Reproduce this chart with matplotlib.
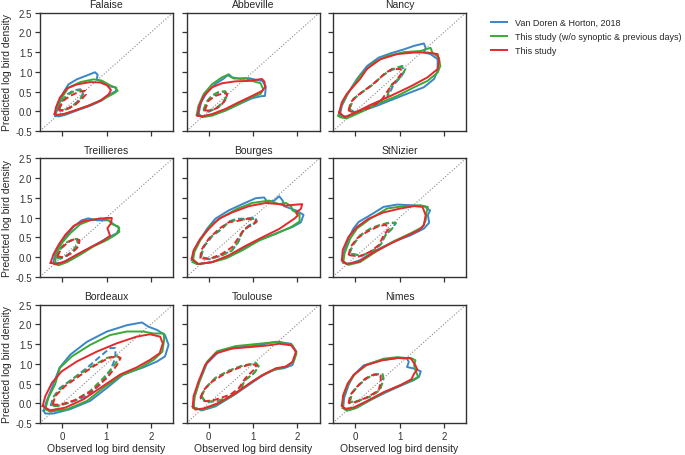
import matplotlib
matplotlib.use("Agg")
import matplotlib.pyplot as plt
from matplotlib.ticker import FormatStrFormatter
import numpy as np

# contour outlines (observed, predicted) in log bird density
# outer = solid contour, inner = dashed contour
# vdh = Van Doren & Horton, 2018 ; nosyn = this study w/o synoptic ; full = this study

falaise_vdh_outer = [(-0.16,-0.11),(-0.08,0.14),(0.03,0.48),(0.14,0.68),(0.33,0.81),(0.56,0.91),(0.74,0.99),(0.80,0.93),(0.78,0.81),(0.93,0.73),(1.08,0.63),(1.22,0.60),(1.22,0.52),(1.08,0.43),(0.89,0.27),(0.63,0.14),(0.33,0.02),(0.07,-0.09),(-0.08,-0.13)]
falaise_nosyn_outer = [(-0.16,-0.09),(-0.11,0.14),(0.02,0.39),(0.14,0.60),(0.41,0.74),(0.71,0.81),(0.89,0.78),(1.08,0.66),(1.20,0.60),(1.25,0.52),(1.16,0.45),(0.93,0.31),(0.63,0.16),(0.33,0.04),(0.07,-0.07),(-0.12,-0.11)]
falaise_full_outer = [(-0.17,-0.07),(-0.14,0.10),(-0.05,0.35),(0.11,0.58),(0.33,0.68),(0.63,0.74),(0.86,0.73),(1.01,0.66),(1.10,0.54),(1.05,0.43),(0.86,0.27),(0.59,0.14),(0.29,0.02),(0.03,-0.07),(-0.12,-0.09)]
falaise_vdh_inner = [(-0.08,0.02),(0.00,0.27),(0.11,0.43),(0.26,0.53),(0.41,0.56),(0.48,0.49),(0.44,0.38),(0.33,0.23),(0.18,0.10),(0.03,0.02)]
falaise_nosyn_inner = [(-0.07,0.03),(0.01,0.26),(0.12,0.41),(0.27,0.51),(0.42,0.54),(0.49,0.48),(0.45,0.37),(0.33,0.22),(0.18,0.09),(0.03,0.02)]
falaise_full_inner = [(-0.08,0.06),(0.03,0.27),(0.18,0.39),(0.37,0.49),(0.52,0.52),(0.54,0.43),(0.44,0.31),(0.29,0.16),(0.11,0.06),(-0.05,0.02)]

abbeville_vdh_outer = [(-0.23,-0.07),(-0.17,0.23),(-0.04,0.48),(0.15,0.69),(0.34,0.83),(0.45,0.94),(0.53,0.86),(0.72,0.82),(0.91,0.84),(1.06,0.80),(1.21,0.77),(1.29,0.63),(1.27,0.39),(1.17,0.38),(0.98,0.33),(0.68,0.18),(0.38,0.02),(0.08,-0.09),(-0.15,-0.13)]
abbeville_nosyn_outer = [(-0.27,-0.09),(-0.23,0.14),(-0.11,0.44),(0.08,0.69),(0.30,0.86),(0.42,0.92),(0.57,0.83),(0.83,0.84),(0.98,0.77),(1.17,0.71),(1.23,0.56),(1.17,0.44),(0.95,0.35),(0.68,0.18),(0.38,0.02),(0.08,-0.11),(-0.15,-0.15)]
abbeville_full_outer = [(-0.25,-0.11),(-0.21,0.14),(-0.11,0.39),(0.08,0.61),(0.30,0.71),(0.61,0.76),(0.91,0.77),(1.20,0.82),(1.26,0.75),(1.27,0.61),(1.21,0.52),(0.98,0.39),(0.68,0.23),(0.38,0.06),(0.08,-0.07),(-0.15,-0.13)]
abbeville_vdh_inner = [(-0.11,0.02),(-0.04,0.23),(0.08,0.39),(0.23,0.48),(0.38,0.50),(0.42,0.39),(0.34,0.23),(0.19,0.08),(0.00,-0.01)]
abbeville_nosyn_inner = [(-0.12,0.03),(-0.05,0.24),(0.07,0.40),(0.22,0.49),(0.37,0.51),(0.41,0.40),(0.33,0.24),(0.18,0.09),(-0.01,0.00)]
abbeville_full_inner = [(-0.09,0.02),(0.00,0.27),(0.15,0.39),(0.34,0.46),(0.42,0.44),(0.39,0.31),(0.27,0.14),(0.08,0.02)]

nancy_vdh_outer = [(-0.34,-0.07),(-0.30,0.14),(-0.15,0.48),(0.04,0.82),(0.27,1.15),(0.53,1.36),(0.80,1.47),(1.10,1.57),(1.33,1.66),(1.55,1.72),(1.59,1.61),(1.55,1.49),(1.70,1.45),(1.86,1.32),(1.86,1.03),(1.78,0.82),(1.55,0.61),(1.25,0.48),(0.87,0.31),(0.49,0.14),(0.11,-0.01),(-0.19,-0.13),(-0.30,-0.13)]
nancy_nosyn_outer = [(-0.38,-0.11),(-0.30,0.18),(-0.15,0.48),(0.11,0.90),(0.42,1.24),(0.72,1.40),(1.10,1.50),(1.48,1.53),(1.70,1.61),(1.74,1.49),(1.89,1.36),(1.92,1.15),(1.86,0.98),(1.63,0.77),(1.33,0.61),(0.95,0.39),(0.49,0.18),(0.11,-0.03),(-0.19,-0.18),(-0.34,-0.15)]
nancy_full_outer = [(-0.36,-0.03),(-0.30,0.23),(-0.19,0.44),(-0.04,0.63),(0.11,0.82),(0.27,1.08),(0.57,1.32),(0.95,1.45),(1.33,1.49),(1.63,1.49),(1.86,1.45),(1.89,1.28),(1.86,1.07),(1.63,0.86),(1.25,0.63),(0.80,0.39),(0.34,0.16),(0.04,-0.01),(-0.23,-0.15)]
nancy_vdh_inner = [(-0.13,0.06),(-0.04,0.31),(0.15,0.48),(0.38,0.66),(0.61,0.90),(0.83,1.05),(1.04,1.12),(1.12,1.05),(1.04,0.88),(0.86,0.66),(0.74,0.37),(0.53,0.21),(0.27,0.07),(0.00,-0.03)]
nancy_nosyn_inner = [(-0.13,0.06),(-0.04,0.31),(0.15,0.48),(0.38,0.66),(0.61,0.90),(0.83,1.07),(1.06,1.15),(1.14,1.09),(1.06,0.90),(0.83,0.69),(0.72,0.39),(0.53,0.23),(0.27,0.08),(0.00,-0.03)]
nancy_full_inner = [(-0.15,0.02),(-0.10,0.23),(0.04,0.39),(0.27,0.58),(0.49,0.77),(0.68,0.97),(0.83,1.07),(1.02,1.07),(1.06,0.98),(0.95,0.82),(0.76,0.56),(0.61,0.31),(0.42,0.14),(0.15,0.02),(-0.04,-0.03)]

treillieres_vdh_outer = [(-0.20,-0.15),(-0.16,0.06),(-0.05,0.31),(0.11,0.56),(0.26,0.77),(0.44,0.93),(0.59,0.98),(0.78,0.93),(1.05,0.93),(1.16,0.83),(1.29,0.73),(1.23,0.60),(1.01,0.48),(0.78,0.33),(0.48,0.14),(0.18,-0.04),(-0.01,-0.15)]
treillieres_nosyn_outer = [(-0.16,-0.18),(-0.14,0.06),(-0.01,0.35),(0.18,0.60),(0.41,0.83),(0.63,0.93),(0.86,0.98),(1.05,0.93),(1.13,0.83),(1.27,0.77),(1.29,0.64),(1.20,0.56),(1.01,0.43),(0.71,0.27),(0.41,0.06),(0.11,-0.13),(-0.08,-0.21)]
treillieres_full_outer = [(-0.26,-0.15),(-0.20,0.06),(-0.08,0.31),(0.07,0.56),(0.26,0.79),(0.48,0.91),(0.78,0.96),(1.01,0.99),(1.12,0.99),(1.10,0.85),(1.02,0.73),(1.08,0.54),(0.93,0.41),(0.63,0.24),(0.33,0.06),(0.07,-0.11),(-0.12,-0.18)]
treillieres_vdh_inner = [(-0.12,-0.03),(-0.06,0.18),(0.07,0.35),(0.22,0.43),(0.33,0.46),(0.35,0.35),(0.26,0.18),(0.11,0.04),(-0.03,-0.04)]
treillieres_nosyn_inner = [(-0.11,-0.02),(-0.05,0.19),(0.08,0.36),(0.23,0.44),(0.34,0.46),(0.36,0.35),(0.27,0.18),(0.12,0.04),(-0.02,-0.03)]
treillieres_full_inner = [(-0.11,0.02),(-0.01,0.23),(0.14,0.38),(0.29,0.46),(0.39,0.43),(0.37,0.27),(0.22,0.10),(0.03,-0.01)]

bourges_vdh_outer = [(-0.38,-0.08),(-0.34,0.13),(-0.23,0.38),(-0.04,0.71),(0.15,0.97),(0.45,1.18),(0.76,1.34),(1.06,1.49),(1.25,1.51),(1.33,1.39),(1.48,1.43),(1.59,1.54),(1.67,1.43),(1.70,1.29),(1.97,1.18),(2.14,1.07),(2.08,0.88),(1.89,0.76),(1.59,0.63),(1.21,0.46),(0.83,0.25),(0.45,0.00),(0.08,-0.13),(-0.23,-0.18)]
bourges_nosyn_outer = [(-0.36,-0.13),(-0.32,0.13),(-0.19,0.42),(0.04,0.80),(0.30,1.01),(0.64,1.22),(0.98,1.37),(1.36,1.43),(1.59,1.34),(1.74,1.37),(1.86,1.29),(1.89,1.18),(2.05,1.09),(2.05,0.90),(1.86,0.76),(1.52,0.59),(1.14,0.42),(0.76,0.17),(0.38,-0.04),(0.04,-0.14),(-0.27,-0.18)]
bourges_full_outer = [(-0.38,-0.04),(-0.34,0.17),(-0.19,0.46),(0.00,0.71),(0.23,0.97),(0.53,1.13),(0.91,1.29),(1.29,1.37),(1.59,1.34),(1.74,1.30),(1.89,1.32),(2.11,1.34),(2.08,1.22),(1.97,1.13),(2.01,1.05),(1.93,0.97),(1.59,0.71),(1.21,0.50),(0.83,0.28),(0.45,0.04),(0.08,-0.13),(-0.23,-0.18)]
bourges_vdh_inner = [(-0.17,0.00),(-0.11,0.25),(0.08,0.53),(0.30,0.71),(0.45,0.90),(0.64,0.97),(0.83,0.97),(1.05,1.01),(1.08,0.90),(0.91,0.80),(0.76,0.63),(0.67,0.38),(0.53,0.17),(0.27,0.03),(0.00,-0.06)]
bourges_nosyn_inner = [(-0.18,0.01),(-0.12,0.26),(0.07,0.53),(0.29,0.72),(0.46,0.89),(0.66,0.95),(0.85,0.95),(1.06,0.97),(1.08,0.88),(0.90,0.78),(0.75,0.62),(0.66,0.37),(0.52,0.16),(0.26,0.02),(-0.01,-0.05)]
bourges_full_inner = [(-0.19,-0.04),(-0.17,0.17),(0.00,0.46),(0.23,0.71),(0.45,0.88),(0.68,0.92),(0.87,0.97),(1.08,0.92),(1.02,0.84),(0.80,0.71),(0.68,0.50),(0.53,0.25),(0.30,0.08),(0.04,-0.04)]

stnizier_vdh_outer = [(-0.28,-0.12),(-0.25,0.13),(-0.15,0.47),(-0.04,0.72),(0.08,0.89),(0.34,1.06),(0.64,1.27),(0.95,1.33),(1.29,1.31),(1.55,1.29),(1.69,1.18),(1.64,1.06),(1.67,0.87),(1.55,0.72),(1.25,0.55),(0.87,0.39),(0.49,0.18),(0.11,-0.08),(-0.15,-0.18)]
stnizier_nosyn_outer = [(-0.27,-0.14),(-0.24,0.09),(-0.11,0.47),(0.04,0.72),(0.34,0.97),(0.72,1.23),(1.10,1.29),(1.48,1.31),(1.64,1.27),(1.61,1.14),(1.59,0.93),(1.52,0.76),(1.25,0.60),(0.87,0.40),(0.49,0.15),(0.11,-0.13),(-0.15,-0.20)]
stnizier_full_outer = [(-0.30,-0.08),(-0.28,0.18),(-0.15,0.51),(0.04,0.76),(0.30,0.97),(0.64,1.13),(1.02,1.23),(1.33,1.29),(1.52,1.27),(1.59,1.06),(1.55,0.81),(1.44,0.68),(1.17,0.54),(0.80,0.34),(0.42,0.12),(0.08,-0.12),(-0.19,-0.18)]
stnizier_vdh_inner = [(-0.13,0.09),(-0.05,0.30),(0.11,0.54),(0.34,0.71),(0.57,0.81),(0.80,0.87),(0.91,0.85),(0.83,0.72),(0.68,0.55),(0.57,0.32),(0.42,0.18),(0.15,0.03)]
stnizier_nosyn_inner = [(-0.13,0.09),(-0.05,0.31),(0.11,0.55),(0.34,0.72),(0.57,0.82),(0.80,0.88),(0.92,0.86),(0.84,0.73),(0.69,0.56),(0.58,0.32),(0.43,0.18),(0.15,0.03)]
stnizier_full_inner = [(-0.15,0.05),(-0.10,0.26),(0.04,0.47),(0.27,0.64),(0.49,0.76),(0.68,0.82),(0.76,0.72),(0.64,0.54),(0.53,0.30),(0.34,0.13),(0.08,0.01)]

bordeaux_vdh_outer = [(-0.42,-0.19),(-0.35,0.06),(-0.20,0.48),(-0.06,0.90),(0.18,1.23),(0.56,1.56),(1.01,1.82),(1.46,1.98),(1.80,2.05),(1.95,1.94),(2.14,1.86),(2.32,1.73),(2.40,1.48),(2.32,1.19),(2.14,1.06),(1.83,0.91),(1.38,0.73),(1.01,0.39),(0.63,0.06),(0.18,-0.15),(-0.20,-0.26),(-0.38,-0.26)]
bordeaux_nosyn_outer = [(-0.38,-0.15),(-0.31,0.14),(-0.16,0.48),(-0.05,0.90),(0.22,1.19),(0.63,1.48),(1.08,1.73),(1.46,1.82),(1.83,1.82),(2.06,1.77),(2.29,1.77),(2.30,1.61),(2.26,1.31),(2.06,1.10),(1.76,0.90),(1.31,0.69),(0.93,0.39),(0.56,0.06),(0.11,-0.15),(-0.27,-0.21)]
bordeaux_full_outer = [(-0.44,-0.07),(-0.38,0.18),(-0.23,0.52),(-0.01,0.81),(0.33,1.06),(0.78,1.31),(1.23,1.52),(1.68,1.69),(1.98,1.75),(2.21,1.69),(2.27,1.52),(2.20,1.27),(1.98,1.10),(1.68,0.91),(1.31,0.73),(0.86,0.39),(0.48,0.10),(0.07,-0.11),(-0.27,-0.18)]
bordeaux_vdh_inner = [(-0.26,-0.07),(-0.21,0.14),(-0.05,0.39),(0.26,0.64),(0.56,0.90),(0.86,1.19),(1.08,1.40),(1.20,1.40),(1.20,1.15),(1.08,0.81),(0.86,0.48),(0.56,0.18),(0.18,0.02),(-0.12,-0.07)]
bordeaux_nosyn_inner = [(-0.23,-0.07),(-0.18,0.18),(0.03,0.44),(0.33,0.69),(0.67,0.94),(1.01,1.15),(1.23,1.21),(1.29,1.15),(1.16,0.94),(0.93,0.64),(0.63,0.31),(0.26,0.06),(-0.08,-0.07)]
bordeaux_full_inner = [(-0.21,-0.03),(-0.16,0.18),(0.07,0.44),(0.41,0.71),(0.74,0.96),(1.05,1.15),(1.23,1.19),(1.32,1.15),(1.23,0.96),(1.01,0.64),(0.67,0.31),(0.29,0.08),(-0.05,-0.04)]

toulouse_vdh_outer = [(-0.34,-0.10),(-0.32,0.18),(-0.21,0.55),(-0.04,1.01),(0.23,1.31),(0.61,1.41),(1.06,1.46),(1.52,1.56),(1.86,1.51),(1.98,1.31),(1.93,1.10),(1.89,0.97),(1.70,0.89),(1.48,0.85),(1.21,0.70),(0.91,0.47),(0.53,0.18),(0.15,-0.08),(-0.15,-0.18)]
toulouse_nosyn_outer = [(-0.34,-0.12),(-0.32,0.15),(-0.21,0.55),(-0.04,1.05),(0.19,1.32),(0.61,1.45),(1.14,1.51),(1.59,1.56),(1.89,1.47),(1.98,1.26),(1.91,1.05),(1.74,0.93),(1.52,0.87),(1.21,0.72),(0.91,0.49),(0.53,0.19),(0.15,-0.05),(-0.15,-0.16)]
toulouse_full_outer = [(-0.36,-0.08),(-0.34,0.18),(-0.23,0.55),(-0.08,0.97),(0.15,1.26),(0.53,1.39),(0.98,1.43),(1.36,1.47),(1.59,1.51),(1.86,1.47),(1.97,1.31),(1.89,1.05),(1.74,0.93),(1.52,0.89),(1.29,0.76),(0.98,0.55),(0.61,0.26),(0.23,0.01),(-0.11,-0.13),(-0.30,-0.16)]
toulouse_vdh_inner = [(-0.17,0.18),(-0.08,0.38),(0.15,0.64),(0.45,0.82),(0.76,0.95),(1.06,1.01),(1.12,0.93),(1.02,0.76),(0.80,0.57),(0.72,0.34),(0.53,0.18),(0.19,0.05),(-0.08,0.03)]
toulouse_nosyn_inner = [(-0.16,0.18),(-0.07,0.39),(0.16,0.65),(0.46,0.83),(0.77,0.96),(1.07,1.02),(1.13,0.94),(1.03,0.77),(0.81,0.58),(0.73,0.35),(0.54,0.19),(0.20,0.06),(-0.07,0.04)]
toulouse_full_inner = [(-0.19,0.13),(-0.11,0.34),(0.08,0.55),(0.38,0.76),(0.68,0.90),(0.95,0.99),(1.08,0.97),(1.02,0.85),(0.83,0.64),(0.68,0.38),(0.49,0.22),(0.15,0.09),(-0.08,0.05)]

nimes_vdh_outer = [(-0.27,-0.11),(-0.25,0.13),(-0.15,0.46),(-0.04,0.71),(0.19,0.96),(0.57,1.09),(0.95,1.15),(1.17,1.13),(1.21,1.05),(1.17,0.92),(1.33,0.88),(1.48,0.81),(1.44,0.67),(1.33,0.59),(1.06,0.46),(0.72,0.29),(0.34,0.08),(0.04,-0.11),(-0.15,-0.17)]
nimes_nosyn_outer = [(-0.28,-0.12),(-0.27,0.17),(-0.15,0.50),(0.00,0.75),(0.27,0.98),(0.64,1.13),(0.95,1.17),(1.29,1.13),(1.36,1.09),(1.33,0.96),(1.36,0.84),(1.42,0.67),(1.29,0.59),(1.02,0.46),(0.68,0.29),(0.30,0.06),(0.00,-0.13),(-0.19,-0.19)]
nimes_full_outer = [(-0.30,-0.06),(-0.27,0.21),(-0.17,0.50),(-0.04,0.71),(0.23,0.96),(0.61,1.09),(0.98,1.15),(1.25,1.15),(1.36,0.96),(1.40,0.86),(1.33,0.75),(1.27,0.61),(1.02,0.46),(0.64,0.28),(0.27,0.06),(-0.04,-0.11),(-0.23,-0.14)]
nimes_vdh_inner = [(-0.13,0.02),(-0.08,0.25),(0.08,0.46),(0.27,0.64),(0.45,0.73),(0.61,0.73),(0.63,0.59),(0.55,0.33),(0.34,0.17),(0.08,0.06)]
nimes_nosyn_inner = [(-0.12,0.03),(-0.07,0.26),(0.09,0.47),(0.28,0.65),(0.46,0.74),(0.62,0.74),(0.64,0.60),(0.56,0.34),(0.35,0.18),(0.09,0.07)]
nimes_full_inner = [(-0.15,0.00),(-0.11,0.21),(0.04,0.42),(0.23,0.63),(0.42,0.73),(0.57,0.71),(0.58,0.54),(0.53,0.33),(0.30,0.17),(0.04,0.04)]

sites = ["Falaise", "Abbeville", "Nancy", "Treillieres", "Bourges", "StNizier",
         "Bordeaux", "Toulouse", "Nimes"]
models = ["Van Doren & Horton, 2018", "This study (w/o synoptic & previous days)", "This study"]
colors = ["#3a86c8", "#3aaa35", "#e3292e"]

contours = {
    "Falaise": [(falaise_vdh_outer, falaise_vdh_inner), (falaise_nosyn_outer, falaise_nosyn_inner), (falaise_full_outer, falaise_full_inner)],
    "Abbeville": [(abbeville_vdh_outer, abbeville_vdh_inner), (abbeville_nosyn_outer, abbeville_nosyn_inner), (abbeville_full_outer, abbeville_full_inner)],
    "Nancy": [(nancy_vdh_outer, nancy_vdh_inner), (nancy_nosyn_outer, nancy_nosyn_inner), (nancy_full_outer, nancy_full_inner)],
    "Treillieres": [(treillieres_vdh_outer, treillieres_vdh_inner), (treillieres_nosyn_outer, treillieres_nosyn_inner), (treillieres_full_outer, treillieres_full_inner)],
    "Bourges": [(bourges_vdh_outer, bourges_vdh_inner), (bourges_nosyn_outer, bourges_nosyn_inner), (bourges_full_outer, bourges_full_inner)],
    "StNizier": [(stnizier_vdh_outer, stnizier_vdh_inner), (stnizier_nosyn_outer, stnizier_nosyn_inner), (stnizier_full_outer, stnizier_full_inner)],
    "Bordeaux": [(bordeaux_vdh_outer, bordeaux_vdh_inner), (bordeaux_nosyn_outer, bordeaux_nosyn_inner), (bordeaux_full_outer, bordeaux_full_inner)],
    "Toulouse": [(toulouse_vdh_outer, toulouse_vdh_inner), (toulouse_nosyn_outer, toulouse_nosyn_inner), (toulouse_full_outer, toulouse_full_inner)],
    "Nimes": [(nimes_vdh_outer, nimes_vdh_inner), (nimes_nosyn_outer, nimes_nosyn_inner), (nimes_full_outer, nimes_full_inner)],
}

xticks = [0, 1, 2]
yticks = [-0.5, 0.0, 0.5, 1.0, 1.5, 2.0, 2.5]

plt.rcParams['font.family'] = ['Liberation Sans', 'DejaVu Sans']
plt.rcParams['axes.unicode_minus'] = False
plt.rcParams['axes.edgecolor'] = '#333333'
plt.rcParams['xtick.color'] = '#333333'
plt.rcParams['ytick.color'] = '#333333'
plt.rcParams['text.color'] = '#262626'
plt.rcParams['axes.labelcolor'] = '#262626'


def closed(pts):
    a = np.array(list(pts) + [pts[0]])
    return a[:, 0], a[:, 1]


fig = plt.figure(figsize=(6.85, 4.56), dpi=100)
lefts = [40 / 685, 186.5 / 685, 333 / 685]
bottoms = [1 - 132 / 456, 1 - 277.7 / 456, 1 - 424 / 456]
w, h = 133 / 685, 118.3 / 456

handles = []
for i, site in enumerate(sites):
    r, c = divmod(i, 3)
    ax = fig.add_axes([lefts[c], bottoms[r], w, h])
    ax.plot([-0.5, 2.5], [-0.5, 2.5], ls=':', color='#8a8a8a', lw=0.8, zorder=1)
    for (outer, inner), col in zip(contours[site], colors):
        x, y = closed(outer)
        ln, = ax.plot(x, y, color=col, lw=1.4, solid_joinstyle='round', zorder=2)
        x, y = closed(inner)
        ax.plot(x, y, color=col, lw=1.4, ls='--', dashes=(3.2, 1.6), zorder=2)
        if i == 0:
            handles.append(ln)
    ax.set_xlim(-0.5, 2.5)
    ax.set_ylim(-0.5, 2.5)
    ax.set_xticks(xticks)
    ax.set_yticks(yticks)
    ax.yaxis.set_major_formatter(FormatStrFormatter('%.1f'))
    ax.tick_params(labelsize=7, length=3.5, width=0.9, pad=2)
    for s in ax.spines.values():
        s.set_linewidth(1.0)
    ax.set_title(site, fontsize=7.5, pad=4)
    if c == 0:
        ax.set_ylabel("Predicted log bird density", fontsize=7.5, labelpad=3)
    else:
        ax.set_yticklabels([])
    if r == 2:
        ax.set_xlabel("Observed log bird density", fontsize=7.5, labelpad=2)
    else:
        ax.set_xticklabels([])

fig.legend(handles, models, loc='upper left', bbox_to_anchor=(491 / 685, 1 - 19 / 456),
           frameon=False, fontsize=6.5, handlelength=1.8, handletextpad=0.9,
           labelspacing=0.55, borderaxespad=0, borderpad=0)

fig.savefig("out.png", dpi=100)
